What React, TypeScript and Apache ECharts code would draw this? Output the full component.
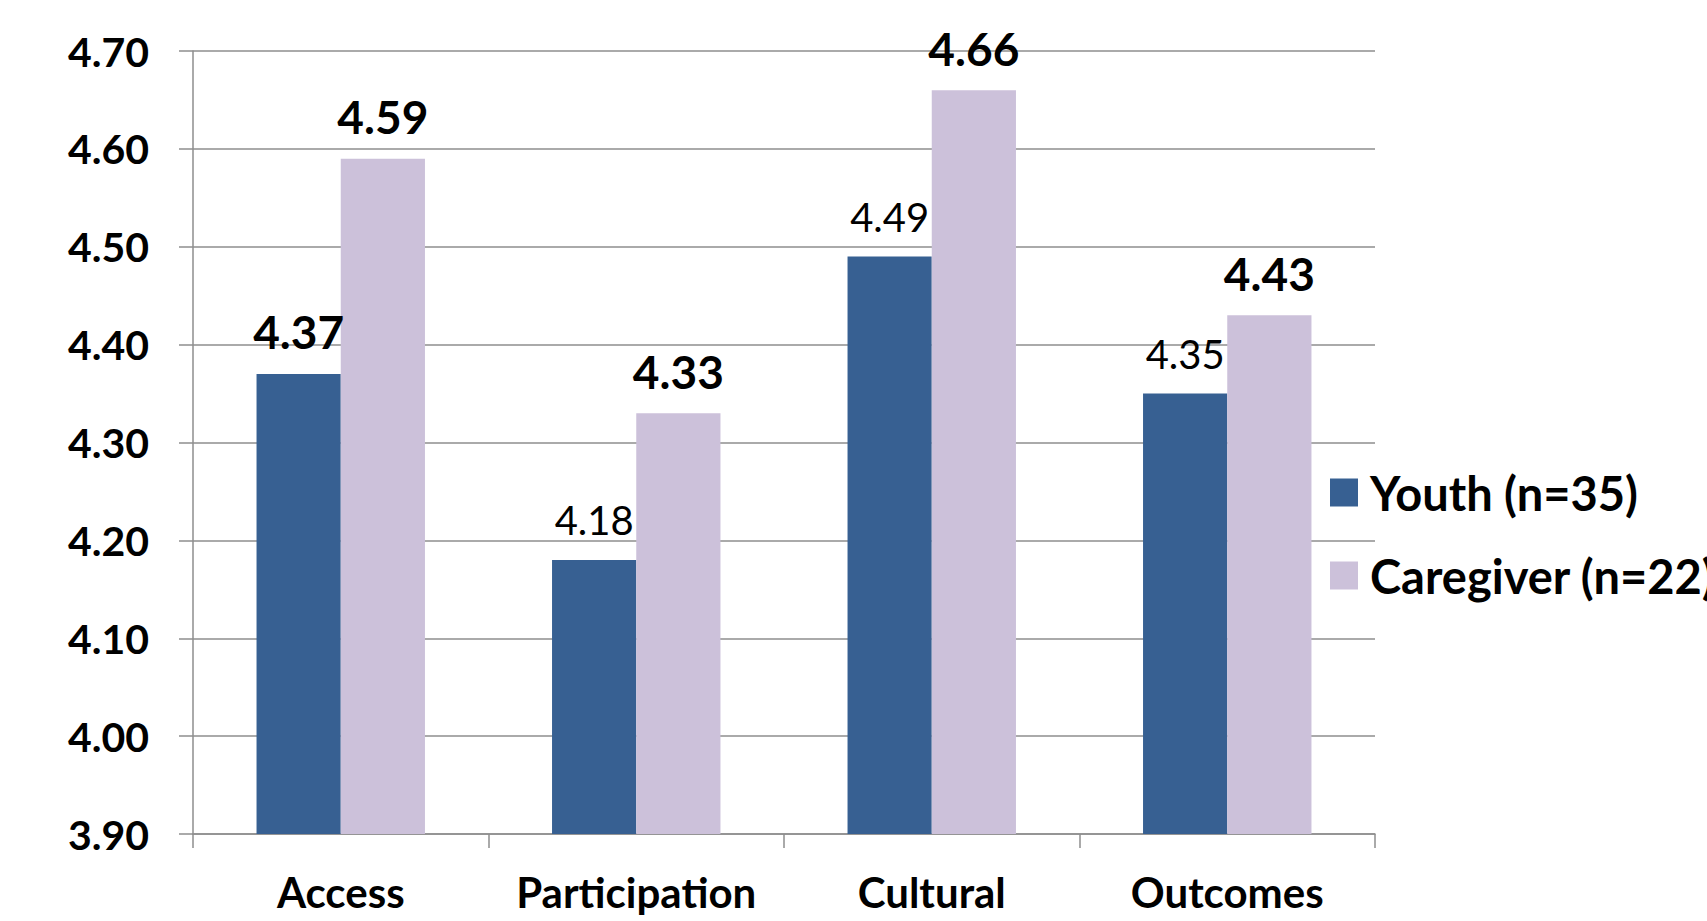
import React, { useEffect, useRef } from "react";
import * as echarts from "echarts";

// Survey domains and mean scores by respondent group
const categories = ["Access", "Participation", "Cultural", "Outcomes"];
const youthValues = [4.37, 4.18, 4.49, 4.35];
const caregiverValues = [4.59, 4.33, 4.66, 4.43];
// which value labels are set in bold
const youthBold = [true, false, false, false];
const caregiverBold = [true, true, true, true];
const seriesNames = ["Youth (n=35)", "Caregiver (n=22)"];
const yMin = 3.9;
const yMax = 4.7;
const yStep = 0.1;

const FONT = "Lato, 'Open Sans', sans-serif";
const YOUTH_COLOR = "#376092";
const CAREGIVER_COLOR = "#CCC1DA";

function labelled(values: number[], bold: boolean[]) {
  return values.map((v, i) => ({
    value: v,
    label: bold[i]
      ? { fontWeight: "bold", fontSize: 46, distance: 19 }
      : { fontWeight: "normal", fontSize: 40, distance: 20 },
  }));
}

export default function App() {
  const ref = useRef<HTMLDivElement>(null);

  useEffect(() => {
    document.body.style.margin = "0";
    if (!ref.current) return;
    const chart = echarts.init(ref.current, undefined, { renderer: "svg" });
    const barLabel = {
      show: true,
      position: "top",
      color: "#000",
      fontFamily: FONT,
      formatter: (p: any) => Number(p.value).toFixed(2),
    };
    chart.setOption({
      animation: false,
      backgroundColor: "#fff",
      grid: { left: 193, right: 332, top: 51, bottom: 87, containLabel: false },
      legend: {
        orient: "vertical",
        left: 1325,
        top: 464,
        itemWidth: 28,
        itemHeight: 28,
        itemGap: 36,
        icon: "rect",
        textStyle: { fontFamily: FONT, fontWeight: "bold", fontSize: 47, color: "#000", padding: [0, 0, 0, 7] },
        data: seriesNames,
      },
      xAxis: {
        type: "category",
        data: categories,
        axisLine: { lineStyle: { color: "#8e8e8e", width: 1.5 } },
        axisTick: { show: true, length: 14, lineStyle: { color: "#8e8e8e", width: 1.5 } },
        axisLabel: {
          interval: 0,
          fontFamily: FONT,
          fontWeight: "bold",
          fontSize: 42,
          color: "#000",
          margin: 37,
        },
      },
      yAxis: {
        type: "value",
        min: yMin,
        max: yMax,
        interval: yStep,
        axisLine: { show: true, lineStyle: { color: "#8e8e8e", width: 1.5 } },
        axisTick: { show: true, length: 14, lineStyle: { color: "#8e8e8e", width: 1.5 } },
        splitLine: { lineStyle: { color: "#8e8e8e", width: 1.5 } },
        axisLabel: {
          fontFamily: FONT,
          fontWeight: "bold",
          fontSize: 41,
          color: "#000",
          margin: 44,
          formatter: (v: number) => v.toFixed(2),
        },
      },
      series: [
        {
          name: seriesNames[0],
          type: "bar",
          data: labelled(youthValues, youthBold),
          itemStyle: { color: YOUTH_COLOR },
          barGap: "0%",
          barCategoryGap: "43%",
          label: barLabel,
        },
        {
          name: seriesNames[1],
          type: "bar",
          data: labelled(caregiverValues, caregiverBold),
          itemStyle: { color: CAREGIVER_COLOR },
          barGap: "0%",
          barCategoryGap: "43%",
          label: barLabel,
        },
      ],
    });
    return () => chart.dispose();
  }, []);

  return <div ref={ref} style={{ width: 1707, height: 921 }} />;
}
